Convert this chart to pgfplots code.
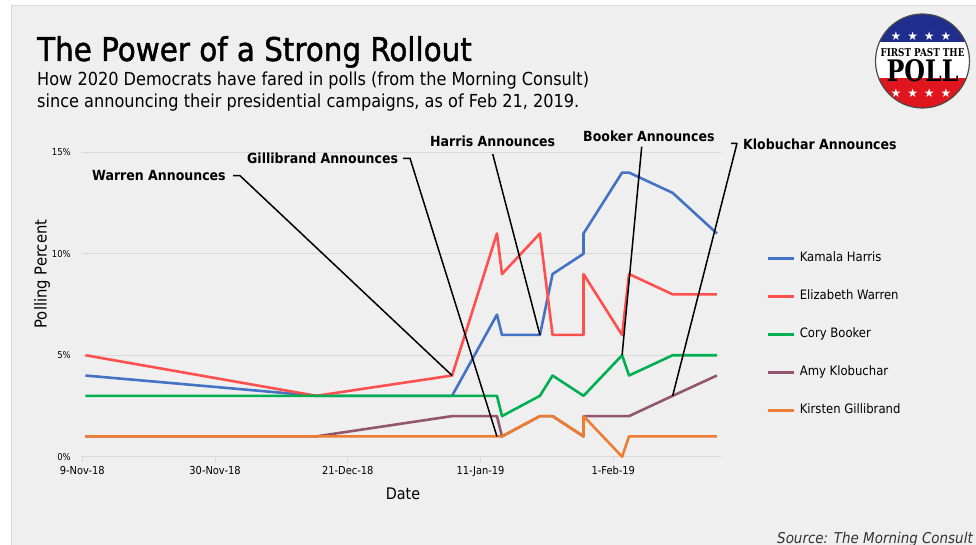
\documentclass[border=0pt]{standalone}
\usepackage{pgfplots}
\pgfplotsset{compat=1.18}
\usepackage{fontspec}
\setmainfont{DejaVu Sans Condensed}
\newfontfamily\titlefont{DejaVu Sans Condensed}[FakeBold=1.3]
\newfontfamily\logofont{DejaVu Serif}
\newfontfamily\symfont{DejaVu Sans}
\definecolor{bgc}{HTML}{EFEFEF}
\definecolor{gridc}{HTML}{D9D9D9}
\definecolor{cH}{HTML}{4472C4}
\definecolor{cW}{HTML}{FF5050}
\definecolor{cB}{HTML}{00B050}
\definecolor{cK}{HTML}{935670}
\definecolor{cG}{HTML}{ED7D31}
\definecolor{lblue}{HTML}{1F2D8C}
\definecolor{lred}{HTML}{E0161E}
\begin{document}
\begin{tikzpicture}
\useasboundingbox (0,0) rectangle (976bp,545bp);
\fill[white] (0,0) rectangle (976bp,545bp);
\filldraw[fill=bgc, draw=gridc] (11bp,-2bp) rectangle (978bp,540bp);
% title
\node[anchor=base west, inner sep=0pt, font=\titlefont\fontsize{32.8}{38}\selectfont] at (37bp,484bp) {The Power of a Strong Rollout};
\node[anchor=base west, inner sep=0pt, font=\fontsize{18}{20}\selectfont] at (37bp,459bp) {How 2020 Democrats have fared in polls (from the Morning Consult)};
\node[anchor=base west, inner sep=0pt, font=\fontsize{18}{20}\selectfont] at (37bp,437bp) {since announcing their presidential campaigns, as of Feb 21, 2019.};
\begin{axis}[
  at={(82.3bp,88.3bp)}, anchor=south west,
  scale only axis, width=638.4bp, height=304.4bp,
  xmin=0, xmax=101, ymin=0, ymax=15,
  axis line style={draw=none},
  ymajorgrids, grid style={gridc, line width=1bp},
  xtick={0,21,42,63,84},
  xticklabels={9-Nov-18,30-Nov-18,21-Dec-18,11-Jan-19,1-Feb-19},
  ytick={0,5,10,15},
  yticklabels={0\%,5\%,10\%,15\%},
  xtick pos=bottom, tick align=outside, major tick length=5bp,
  xtick style={draw=gridc, line width=1bp},
  ytick style={draw=none},
  xticklabel style={font=\fontsize{11}{12}\selectfont, yshift=-1bp},
  yticklabel style={font=\fontsize{9.5}{11}\selectfont, xshift=-3bp},
  clip=false,
  legend cell align=left,
  legend image code/.code={\draw[#1] (0bp,0bp) -- (26bp,0bp);},
  legend style={at={(rel axis cs:1.0725,0.674)}, anchor=north west, draw=none, fill=none, inner sep=0pt,
    font=\fontsize{13}{15}\selectfont, row sep=25bp,
    nodes={inner sep=0pt, text height=10bp, text depth=3bp},
    /tikz/every odd column/.append style={column sep=4bp}},
  every axis plot/.append style={line width=2.6bp, line join=round},
]
\addplot[cH] coordinates {(0.5,4) (37,3) (58.5,3) (65.6,7) (66.4,6) (72.4,6) (74.4,9) (79.3,10) (79.3,11) (85.4,14) (86.5,14) (93.4,13) (100.4,11)};
\addlegendentry{Kamala Harris}
\addplot[cW] coordinates {(0.5,5) (37,3) (58.5,4) (65.6,11) (66.4,9) (72.4,11) (74.4,6) (79.3,6) (79.3,9) (85.4,6) (86.5,9) (93.4,8) (100.4,8)};
\addlegendentry{Elizabeth Warren}
\addplot[cB] coordinates {(0.5,3) (37,3) (58.5,3) (65.6,3) (66.4,2) (72.4,3) (74.4,4) (79.3,3) (85.4,5) (86.5,4) (93.4,5) (100.4,5)};
\addlegendentry{Cory Booker}
\addplot[cK] coordinates {(0.5,1) (37,1) (58.5,2) (65.6,2) (66.4,1) (72.4,2) (74.4,2) (79.3,1) (79.3,2) (85.4,2) (86.5,2) (93.4,3) (100.4,4)};
\addlegendentry{Amy Klobuchar}
\addplot[cG] coordinates {(0.5,1) (37,1) (58.5,1) (65.6,1) (66.4,1) (72.4,2) (74.4,2) (79.3,1) (79.3,2) (85.4,0) (86.5,1) (93.4,1) (100.4,1)};
\addlegendentry{Kirsten Gillibrand}
\coordinate (pw) at (axis cs:58.5,4);
\coordinate (pg) at (axis cs:65.6,1);
\coordinate (ph) at (axis cs:72.4,6);
\coordinate (pb) at (axis cs:85.4,5);
\coordinate (pk) at (axis cs:93.4,3);
\end{axis}
% axis labels
\node[font=\fontsize{16}{18}\selectfont] at (403bp,51bp) {Date};
\node[rotate=90, font=\fontsize{16.5}{18}\selectfont] at (42bp,271bp) {Polling Percent};
% annotations
\begin{scope}[font=\bfseries\fontsize{14}{16}\selectfont]
\node[anchor=west, inner sep=0pt] at (92bp,369bp) {Warren Announces};
\node[anchor=west, inner sep=0pt] at (247bp,387bp) {Gillibrand Announces};
\node[anchor=west, inner sep=0pt] at (430bp,404bp) {Harris Announces};
\node[anchor=west, inner sep=0pt] at (583bp,409bp) {Booker Announces};
\node[anchor=west, inner sep=0pt] at (743bp,401bp) {Klobuchar Announces};
\end{scope}
\begin{scope}[black, line width=1.5bp, line join=round]
\draw (233bp,369.3bp) -- (240bp,369.3bp) -- (pw);
\draw (403bp,386.7bp) -- (410bp,386.7bp) -- (pg);
\draw (492.7bp,391bp) -- (ph);
\draw (641.7bp,398.3bp) -- (pb);
\draw (731bp,401.7bp) -- (737bp,401.7bp) -- (pk);
\end{scope}
% source
\node[anchor=east, inner sep=0pt, font=\itshape\fontsize{15}{16}\selectfont, text=black!80] at (973bp,6bp) {Source: The Morning Consult};
% logo
\begin{scope}
\clip (922.5bp,484bp) circle (47bp);
\fill[lblue] (870bp,503.3bp) rectangle (975bp,535bp);
\fill[white] (870bp,466.7bp) rectangle (975bp,503.3bp);
\fill[lred] (870bp,430bp) rectangle (975bp,466.7bp);
\end{scope}
\draw[black!70, line width=1.2bp] (922.5bp,484bp) circle (47bp);
\foreach \sx in {896,912.7,929.3,946} {
  \node[text=white, inner sep=0pt, font=\symfont\fontsize{12}{12}\selectfont] at (\sx bp,508.3bp) {★};
  \node[text=white, inner sep=0pt, font=\symfont\fontsize{12}{12}\selectfont] at (\sx bp,451.7bp) {★};
}
\node[inner sep=0pt] at (922.5bp,492.5bp) {\resizebox{84bp}{8bp}{\logofont\bfseries FIRST PAST THE}};
\node[inner sep=0pt] at (922.5bp,474bp) {\resizebox{72bp}{22bp}{\logofont\bfseries POLL}};
\end{tikzpicture}
\end{document}
